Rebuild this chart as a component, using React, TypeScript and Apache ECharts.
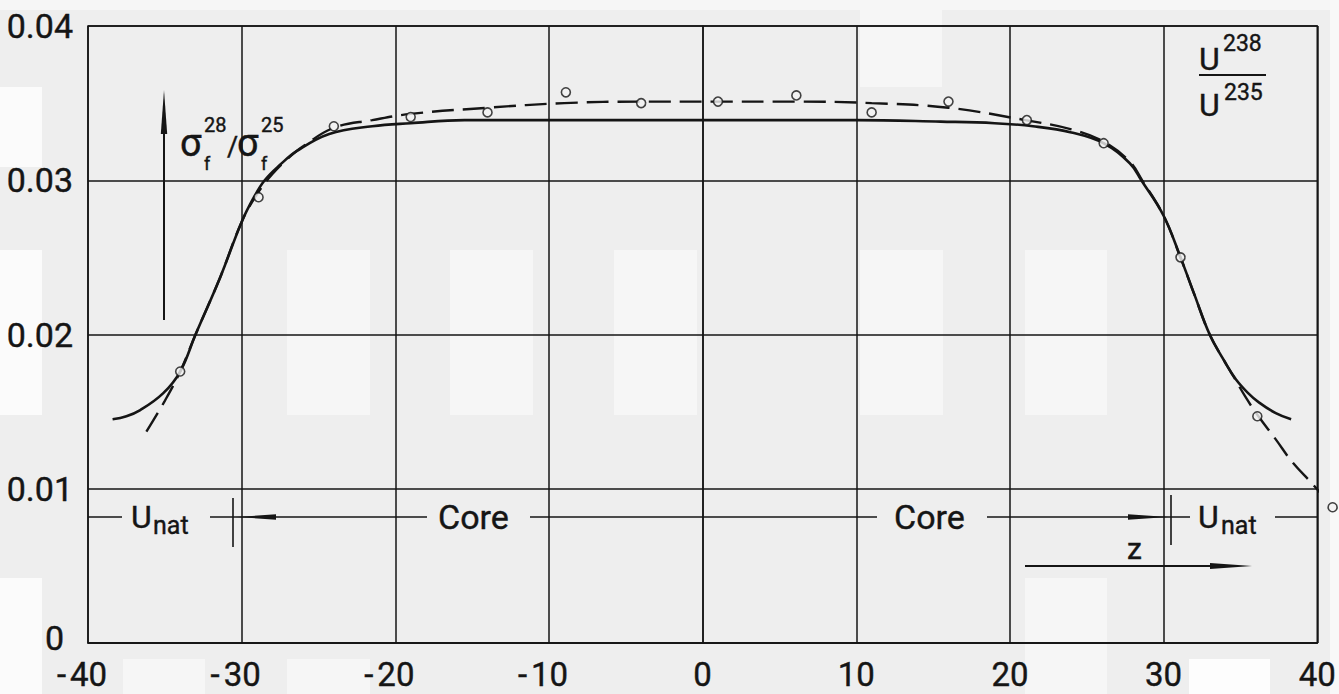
import React, { useEffect, useRef } from "react";
import * as echarts from "echarts";

// ---- data ----
const xTicks = [-40, -30, -20, -10, 0, 10, 20, 30, 40];
const yTicks = [0, 0.01, 0.02, 0.03, 0.04];

// solid (calculated) curve
const solidZ = [-38.4, -37.5, -36.6, -35.1, -34.0, -33.0, -31.4, -30.0, -29.2, -28.5, -27.5, -26.4, -24.3, -21.5, -19.0, -15.5, -10, 0, 10, 15.5, 19, 21.5, 24, 26.1, 27.8, 28.55, 30.0, 31.1, 32.0, 33.0, 34.0, 34.7, 35.5, 36.2, 37.3, 38.3];
const solidRatio = [0.0145, 0.0147, 0.0151, 0.0162, 0.0176, 0.02, 0.0237, 0.0273, 0.0289, 0.03, 0.031, 0.0319, 0.033, 0.0335, 0.0337, 0.0339, 0.0339, 0.0339, 0.0339, 0.0338, 0.0337, 0.0335, 0.0331, 0.0324, 0.0311, 0.03, 0.0277, 0.025, 0.0226, 0.02, 0.0182, 0.0171, 0.0162, 0.0156, 0.0149, 0.0145];

// dashed (fitted to measurements) curve
const dashedZ = [-36.2, -35.0, -34.0, -33.0, -31.4, -30.0, -29.0, -28.0, -27.0, -26.0, -24.0, -21.5, -19.0, -14.0, -9.0, -4.0, 1.0, 6.0, 11.0, 16.0, 21.0, 24.0, 26.1, 27.8, 28.6, 30.0, 31.1, 32.0, 33.0, 34.0, 34.6, 35.3, 36.1, 37.3, 38.4, 39.7, 41.0];
const dashedRatio = [0.0137, 0.0157, 0.0176, 0.02, 0.0237, 0.0273, 0.0291, 0.0304, 0.0314, 0.0322, 0.0334, 0.0339, 0.0343, 0.0347, 0.035, 0.0351, 0.0351, 0.0351, 0.035, 0.0347, 0.0339, 0.0333, 0.0325, 0.0312, 0.03, 0.0277, 0.025, 0.0226, 0.02, 0.0182, 0.0172, 0.016, 0.0148, 0.0132, 0.0117, 0.0103, 0.0088];

// measured points
const pointZ = [-34.0, -28.9, -24.0, -19.0, -14.0, -8.9, -4.0, 1.0, 6.1, 11.0, 16.0, 21.1, 26.1, 31.1, 36.1, 41.0];
const pointRatio = [0.0176, 0.0289, 0.0335, 0.0341, 0.0344, 0.0357, 0.035, 0.0351, 0.0355, 0.0344, 0.0351, 0.0339, 0.0324, 0.025, 0.0147, 0.0088];

const FONT = 'Roboto, "DejaVu Sans", sans-serif';
const INK = "#151515";
const BG = "#eeeeee";

function txt(text: string, x: number, y: number, size: number, align = "left") {
  return {
    type: "text",
    x,
    y,
    z: 50,
    style: {
      text,
      fill: INK,
      stroke: INK,
      lineWidth: 0.4,
      font: `${size}px ${FONT}`,
      align,
      verticalAlign: "middle",
      textAlign: align,
      textVerticalAlign: "middle",
    },
  };
}
function ln(x1: number, y1: number, x2: number, y2: number, w = 2) {
  return { type: "line", z: 50, shape: { x1, y1, x2, y2 }, style: { stroke: INK, lineWidth: w } };
}
function head(points: number[][]) {
  return { type: "polygon", z: 50, shape: { points }, style: { fill: INK } };
}
function patch(x: number, y: number, w: number, h: number, fill: string) {
  return { type: "rect", z: -100, silent: true, shape: { x, y, width: w, height: h }, style: { fill } };
}

export default function App() {
  const ref = useRef<HTMLDivElement>(null);
  useEffect(() => {
    if (!ref.current) return;
    const chart = echarts.init(ref.current, null, { renderer: "svg" });
    const pair = (xs: number[], ys: number[]) => xs.map((x, i) => [x, ys[i]]);
    const light = "#f6f6f6";
    const xFont = { fontSize: 33, lineHeight: 28, fontFamily: FONT, color: INK, textBorderColor: INK, textBorderWidth: 0.4 };
    const yFont = { fontSize: 34, lineHeight: 28, fontFamily: FONT, color: INK, textBorderColor: INK, textBorderWidth: 0.4 };
    const option: any = {
      animation: false,
      backgroundColor: BG,
      grid: {
        left: 88,
        right: 21,
        top: 26,
        bottom: 51,
        show: true,
        borderColor: INK,
        borderWidth: 1.5,
        backgroundColor: "transparent",
      },
      xAxis: {
        type: "value",
        min: xTicks[0],
        max: xTicks[xTicks.length - 1],
        interval: 10,
        axisLine: { show: true, lineStyle: { color: INK, width: 1.5 } },
        axisTick: { show: false },
        splitLine: { show: true, lineStyle: { color: INK, width: 1.5 } },
        axisLabel: {
          ...xFont,
          margin: 17,
          formatter: (v: number) => {
            if (!xTicks.includes(v)) return "";
            return v < 0 ? `{m|-}{d|${Math.abs(v)}}` : String(v);
          },
          rich: {
            m: { ...xFont },
            d: { ...xFont, padding: [0, 12, 0, 4] },
          },
        },
      },
      yAxis: {
        type: "value",
        min: yTicks[0],
        max: yTicks[yTicks.length - 1],
        interval: 0.01,
        axisLine: { show: true, lineStyle: { color: INK, width: 1.5 } },
        axisTick: { show: false },
        splitLine: { show: true, lineStyle: { color: INK, width: 1.5 } },
        axisLabel: {
          ...yFont,
          margin: 15,
          formatter: (v: number) => (v === 0 ? "{z|0}" : v.toFixed(2)),
          rich: { z: { ...yFont, lineHeight: 22, padding: [0, 9, 10, 0] } },
        },
      },
      series: [
        {
          type: "line",
          data: pair(solidZ, solidRatio),
          smooth: 0.4,
          showSymbol: false,
          symbol: "none",
          clip: false,
          lineStyle: { color: INK, width: 2.6 },
          z: 3,
        },
        {
          type: "line",
          data: pair(dashedZ, dashedRatio),
          smooth: 0.4,
          showSymbol: false,
          symbol: "none",
          clip: false,
          lineStyle: { color: INK, width: 2.4, type: [22, 9] },
          z: 3,
        },
        {
          type: "scatter",
          data: pair(pointZ, pointRatio),
          symbol: "circle",
          symbolSize: 9,
          clip: false,
          itemStyle: { color: "#f2f2f2", borderColor: INK, borderWidth: 1.6 },
          z: 5,
        },
      ],
      graphic: [
        // faint scan patches
        patch(0, 0, 1339, 10, light),
        patch(0, 87, 42, 80, "#fbfbfb"),
        patch(0, 250, 42, 165, "#fbfbfb"),
        patch(0, 578, 42, 116, "#fbfbfb"),
        patch(123, 659, 82, 35, light),
        patch(287, 659, 83, 35, light),
        patch(287, 250, 83, 165, light),
        patch(450, 250, 83, 165, light),
        patch(614, 250, 83, 165, light),
        patch(860, 250, 83, 165, light),
        patch(1025, 250, 82, 165, light),
        patch(860, 0, 82, 87, light),
        patch(1025, 578, 82, 116, light),
        patch(1189, 659, 81, 35, "#fdfdfd"),
        patch(1330, 0, 9, 694, "#f8f8f8"),
        // vertical arrow + sigma ratio label
        ln(164, 128, 164, 320, 2),
        head([[164, 90], [160.8, 134], [167.2, 134]]),
        txt("σ", 180, 143, 38),
        txt("28", 204, 125, 20),
        txt("f", 204, 163, 18),
        txt("/", 227, 147, 27),
        txt("σ", 237, 143, 38),
        txt("25", 261, 125, 20),
        txt("f", 261, 163, 18),
        // fraction top right
        txt("U", 1199, 59, 32),
        txt("238", 1223, 43, 23),
        ln(1199, 75, 1266, 75, 2.2),
        txt("U", 1199, 105, 32),
        txt("235", 1224, 92, 23),
        // bottom: U_nat / Core markers
        ln(88, 517, 122, 517, 1.6),
        txt("U", 131, 517, 32),
        txt("nat", 153, 525, 25),
        ln(210, 517, 427, 517, 1.6),
        ln(233, 498, 233, 547, 1.6),
        head([[236, 517], [276, 514.3], [276, 519.7]]),
        txt("Core", 438, 517, 34),
        ln(530, 517, 877, 517, 1.6),
        txt("Core", 894, 517, 34),
        ln(987, 517, 1190, 517, 1.6),
        head([[1168, 517], [1128, 514.3], [1128, 519.7]]),
        ln(1171, 495, 1171, 545, 1.6),
        txt("U", 1198, 517, 32),
        txt("nat", 1221, 525, 25),
        ln(1275, 517, 1317, 517, 1.6),
        // z arrow
        txt("z", 1127, 548, 30),
        ln(1025, 566, 1215, 566, 2),
        head([[1252, 566], [1210, 563], [1210, 569]]),
      ],
    };
    chart.setOption(option);
    return () => chart.dispose();
  }, []);
  return (
    <div
      ref={ref}
      style={{ position: "fixed", left: 0, top: 0, width: 1339, height: 694 }}
    />
  );
}
